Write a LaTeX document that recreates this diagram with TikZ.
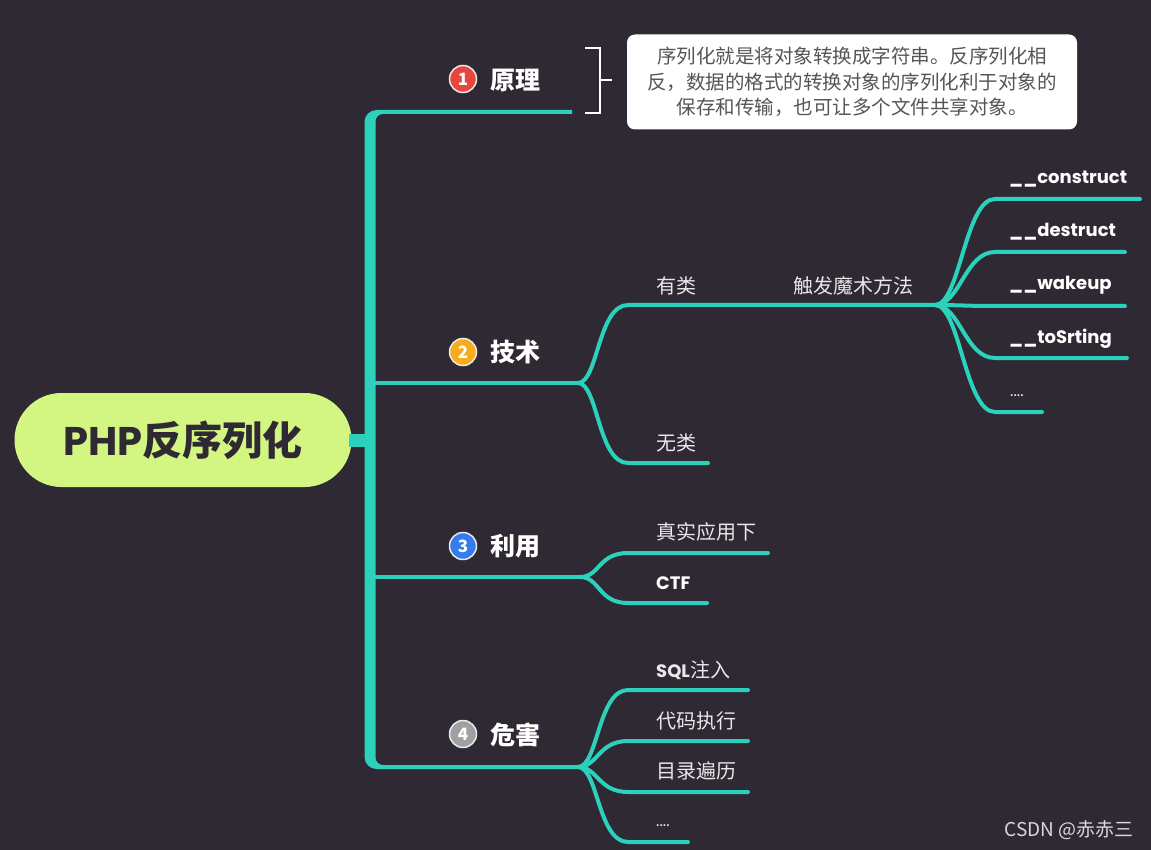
\documentclass[tikz,border=0pt]{standalone}
\usepackage{fontspec}
\setmainfont{Noto Sans CJK SC}
\newfontfamily\pop{Poppins}
\definecolor{bg}{RGB}{46,41,51}
\definecolor{br}{RGB}{44,209,188}
\definecolor{rootc}{RGB}{211,245,130}
\definecolor{ired}{RGB}{232,69,60}
\definecolor{iora}{RGB}{248,172,28}
\definecolor{iblu}{RGB}{52,124,238}
\definecolor{igry}{RGB}{160,160,160}
\definecolor{notec}{RGB}{85,85,85}
\definecolor{subc}{RGB}{232,232,232}
\begin{document}
\begin{tikzpicture}[x=1pt,y=-1pt,
  branch/.style={draw=br, line width=4pt, line cap=round},
  lbl/.style={text=white, anchor=west, inner sep=0pt, font=\bfseries\fontsize{25}{29}\selectfont},
  sub/.style={text=subc, anchor=west, inner sep=0pt, font=\fontsize{20}{24}\selectfont},
  meth/.style={text=white, anchor=west, inner sep=0pt, font=\pop\bfseries\fontsize{18}{22}\selectfont},
  icon/.style={circle, draw=white!85!gray, line width=1.5pt, minimum size=27pt, inner sep=0pt, text=white, font=\bfseries\fontsize{17}{19}\selectfont}]
\useasboundingbox (0,0) rectangle (1151,850);
\fill[bg] (0,0) rectangle (1151,850);

% trunk
\fill[br] (364.5,122) arc[start angle=180,end angle=270,radius=12] -- (572,110) -- (572,114) -- (383,114)
  arc[start angle=270,end angle=180,radius=7.5] -- (375.5,757.5)
  arc[start angle=180,end angle=90,radius=7.5] -- (578,765) -- (578,769) -- (376.5,769)
  arc[start angle=90,end angle=180,radius=12] -- cycle;

% root
\node[fill=rootc, rounded corners=47pt, minimum width=337pt, minimum height=94pt, inner sep=0pt,
  text=bg, font=\bfseries\fontsize{40}{46}\selectfont] (root) at (183,440) {{\pop PHP}反序列化};
\fill[br] (root.east) ++(-3,-6.5) rectangle (370,446.5);

% branch coordinates
\coordinate (t1) at (375,112);
\coordinate (b1) at (572,112);
\coordinate (t2) at (372,383);
\coordinate (s2) at (578,383);
\coordinate (t3) at (372,577);
\coordinate (s3) at (580,577);
\coordinate (t4) at (372,767);
\coordinate (s4) at (578,767);

\draw[branch] (t2) -- (s2);
\draw[branch] (t3) -- (s3);

% branch labels and icons
\node[icon, fill=ired] (i1) at (463,79) {1};
\node[lbl] (l1) at (490,80) {原理};
\node[icon, fill=iora] (i2) at (463,352) {2};
\node[lbl] (l2) at (490,352) {技术};
\node[icon, fill=iblu] (i3) at (463,546) {3};
\node[lbl] (l3) at (490,546) {利用};
\node[icon, fill=igry] (i4) at (463,734) {4};
\node[lbl] (l4) at (490,735) {危害};

% bracket and note
\coordinate (bt) at (585,48);
\coordinate (bb) at (585,113);
\coordinate (bm) at (600,80);
\draw[white, line width=1.8pt] (bt) -- (600,48) -- (600,113) -- (bb);
\node[fill=white, rounded corners=8pt, minimum width=450pt, minimum height=95pt, inner sep=0pt,
  text=notec, align=center, font=\fontsize{19.5}{25.5}\selectfont] (note) at (852,82)
  {序列化就是将对象转换成字符串。反序列化相\\反，数据的格式的转换对象的序列化利于对象的\\保存和传输，也可让多个文件共享对象。};
\draw[white, line width=1.8pt] (bm) -- (612,80);

% 技术 children
\coordinate (yl) at (628,305);
\coordinate (fan) at (935,305);
\coordinate (wl) at (628,463);
\coordinate (wle) at (708,463);
\draw[branch] (s2) .. controls +(20,0) and +(-30,0) .. (yl) -- (fan);
\draw[branch] (s2) .. controls +(20,0) and +(-30,0) .. (wl) -- (wle);
\node[sub] (youlei) at (656,286) {有类};
\node[sub] (wulei) at (656,443) {无类};
\node[sub] (chufa) at (793,286) {触发魔术方法};

% magic methods
\coordinate (m1) at (995,199); \coordinate (m1e) at (1140,199);
\coordinate (m2) at (995,252); \coordinate (m2e) at (1125,252);
\coordinate (m3) at (995,306); \coordinate (m3e) at (1125,306);
\coordinate (m4) at (995,358); \coordinate (m4e) at (1127,358);
\coordinate (m5) at (995,412); \coordinate (m5e) at (1042,412);
\foreach \a/\b in {m1/m1e,m2/m2e,m3/m3e,m4/m4e,m5/m5e}
  \draw[branch] (fan) .. controls +(25,0) and +(-30,0) .. (\a) -- (\b);
\node[meth] (c1) at (1009,179) {\_\_construct};
\node[meth] (c2) at (1009,232) {\_\_destruct};
\node[meth] (c3) at (1009,285) {\_\_wakeup};
\node[meth] (c4) at (1009,339) {\_\_toSrting};
\node[sub, font=\pop\fontsize{16}{18}\selectfont] (c5) at (1010,396) {....};

% 利用 children
\coordinate (u1) at (628,553); \coordinate (u1e) at (768,553);
\coordinate (u2) at (628,603); \coordinate (u2e) at (707,603);
\draw[branch] (s3) .. controls +(20,0) and +(-30,0) .. (u1) -- (u1e);
\draw[branch] (s3) .. controls +(20,0) and +(-30,0) .. (u2) -- (u2e);
\node[sub] (zs) at (656,532) {真实应用下};
\node[sub, text=white, font=\pop\bfseries\fontsize{18}{22}\selectfont] (ctf) at (656,583) {CTF};

% 危害 children
\coordinate (h1) at (628,690); \coordinate (h1e) at (748,690);
\coordinate (h2) at (628,741); \coordinate (h2e) at (748,741);
\coordinate (h3) at (628,792); \coordinate (h3e) at (748,792);
\coordinate (h4) at (628,842); \coordinate (h4e) at (688,842);
\foreach \a/\b in {h1/h1e,h2/h2e,h3/h3e,h4/h4e}
  \draw[branch] (s4) .. controls +(20,0) and +(-30,0) .. (\a) -- (\b);
\node[sub] (sql) at (656,670) {{\pop\bfseries\fontsize{18}{22}\selectfont SQL}注入};
\node[sub] (dm) at (656,721) {代码执行};
\node[sub] (ml) at (656,771) {目录遍历};
\node[sub, font=\pop\fontsize{16}{18}\selectfont] (dots) at (656,826) {....};

% watermark
\node[text=white!70!gray, font=\fontsize{19}{22}\selectfont, inner sep=0pt] (wm) at (1069,830) {CSDN @赤赤三};
\end{tikzpicture}
\end{document}
